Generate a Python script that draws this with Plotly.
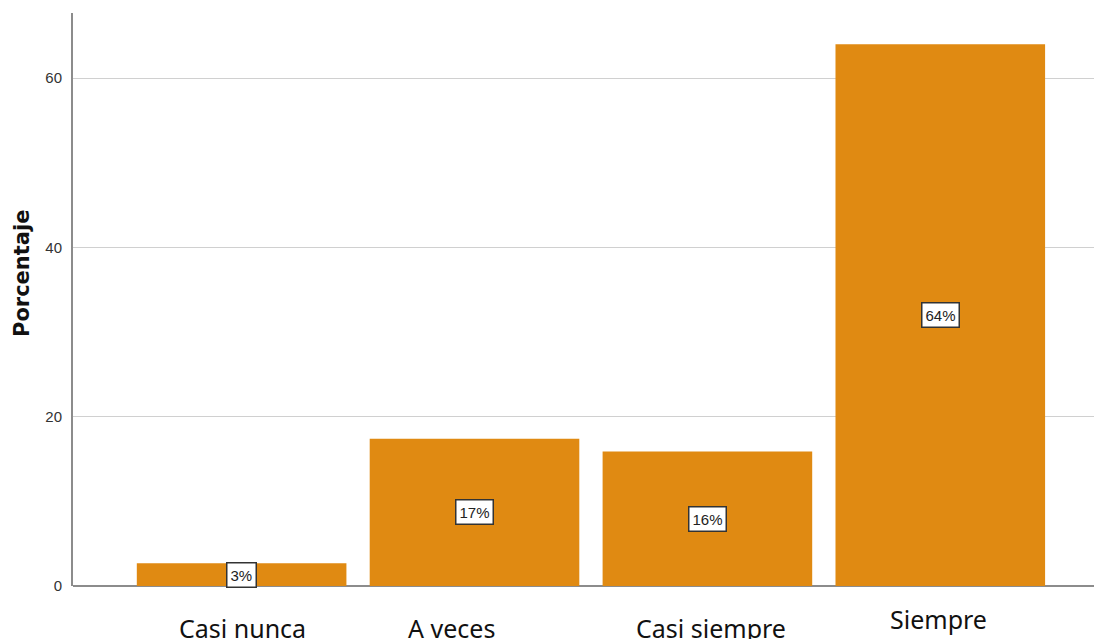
import plotly.graph_objects as go

categories = ["Casi nunca", "A veces", "Casi siempre", "Siempre"]
percentages = [2.7, 17.4, 15.9, 64.0]
value_labels = ["3%", "17%", "16%", "64%"]
y_ticks = [0, 20, 40, 60]

bar_color = "#E08A12"
sans = "Arial, Liberation Sans, sans-serif"

fig = go.Figure()
fig.add_trace(go.Bar(
    x=list(range(len(categories))),
    y=percentages,
    marker=dict(color=bar_color, line=dict(width=0)),
    width=0.9,
    hoverinfo="skip",
))

# value labels in boxes at half bar height
for i, (v, lab) in enumerate(zip(percentages, value_labels)):
    fig.add_annotation(
        x=i, y=v / 2, xref="x", yref="y", text=lab, showarrow=False,
        font=dict(family=sans, size=15, color="#222222"),
        bgcolor="white", bordercolor="#333333", borderwidth=1.5, borderpad=3,
    )

# category labels below the axis
label_yshift = [-42, -42, -42, -33]
label_xshift = [1, -23, 4, -2]
for i, (cat, dy, dx) in enumerate(zip(categories, label_yshift, label_xshift)):
    fig.add_annotation(
        x=i, y=0, xref="x", yref="y", text=cat, showarrow=False,
        yshift=dy, xshift=dx,
        font=dict(family="Noto Sans, Open Sans", size=25, color="#111111"),
    )

# y axis title
fig.add_annotation(
    x=0, y=(586 - 274) / 573, xref="paper", yref="paper", text="<b>Porcentaje</b>",
    showarrow=False, textangle=-90, xanchor="center", yanchor="middle", xshift=-51,
    font=dict(family="DejaVu Sans", size=21, color="#111111"),
)

fig.update_layout(
    width=1094, height=639,
    margin=dict(l=73, r=0, t=13, b=53),
    paper_bgcolor="white", plot_bgcolor="white",
    showlegend=False,
    bargap=0.1,
    xaxis=dict(
        range=[-0.724, 3.66], showticklabels=False, showgrid=False,
        zeroline=False, showline=False, ticks="",
    ),
    yaxis=dict(
        range=[0, 67.7], tickvals=y_ticks, ticktext=[str(t) for t in y_ticks],
        showgrid=True, gridcolor="#D0D0D0", gridwidth=1,
        showline=True, linecolor="#8C8C8C", linewidth=2,
        zeroline=True, zerolinecolor="#8C8C8C", zerolinewidth=2,
        ticks="outside", ticklen=6, tickcolor="rgba(0,0,0,0)",
        tickfont=dict(family=sans, size=15, color="#333333"),
    ),
)

fig.write_html(
    "out.html",
    config={"displayModeBar": False},
    post_script="document.body.style.margin='0';document.body.style.overflow='hidden';",
)
